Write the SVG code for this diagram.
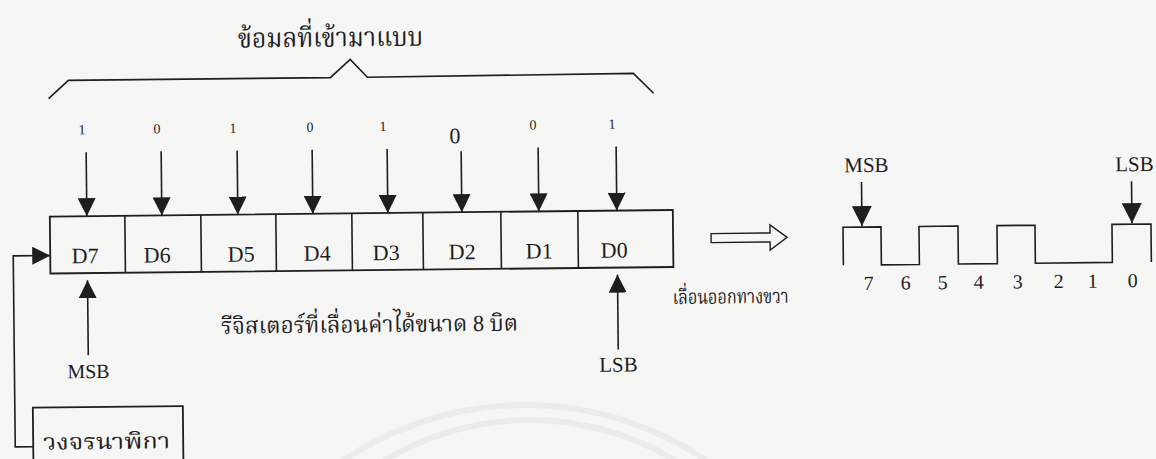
<svg xmlns="http://www.w3.org/2000/svg" width="1156" height="459" viewBox="0 0 1156 459">
  <style>
    .ln { fill: none; stroke: #1e1e1e; stroke-width: 1.6; }
    .box { fill: none; stroke: #1e1e1e; stroke-width: 1.8; }
    .t { font-family: "Liberation Serif", "Noto Serif Thai", "Noto Sans Thai", "Loma", "Garuda", serif; fill: #1e1e1e; }
    .th { font-family: "Liberation Serif", "Noto Serif Thai", "Noto Sans Thai", "Loma", "Garuda", "Tlwg Typo", serif; fill: #1e1e1e; }
    .cell { font-size: 22px; text-anchor: middle; }
    .bit { font-size: 14px; text-anchor: middle; }
    .lbl { font-size: 21px; text-anchor: middle; }
    .wd { font-size: 20px; text-anchor: middle; }
  </style>
  <defs>
    <marker id="ah" markerUnits="userSpaceOnUse" markerWidth="18" markerHeight="18" refX="18" refY="9" orient="auto" viewBox="0 0 18 18">
      <path d="M0,0 L18,9 L0,18 z" fill="#1e1e1e"/>
    </marker>
    <marker id="ahs" markerUnits="userSpaceOnUse" markerWidth="20" markerHeight="20" refX="20" refY="10" orient="auto" viewBox="0 0 20 20">
      <path d="M0,0 L20,10 L0,20 z" fill="#1e1e1e"/>
    </marker>
  </defs>
  <rect width="1156" height="459" fill="#f6f6f5"/>
  <g id="watermark" fill="none" stroke="#ebebeb" stroke-width="6">
    <path d="M330,470 A325,325 0 0 1 720,470"/>
    <path d="M370,470 A281,281 0 0 1 690,470"/>
  </g>
  <g transform="rotate(-0.6 578 230)">
    <g id="title">
      <text class="th" x="240" y="44" font-size="27" textLength="185" lengthAdjust="spacingAndGlyphs">ข้อมลที่เข้ามาแบบ</text>
      <path class="ln" d="M50,93 L70,75 L332,75 L352,57 L369,75 L635,74 L655,94"/>
    </g>
    <g id="bits" class="t bit">
      <text x="83" y="129">1</text>
      <text x="158" y="129">0</text>
      <text x="234" y="129">1</text>
      <text x="311" y="129">0</text>
      <text x="384" y="129">1</text>
      <text x="456" y="142" style="font-size:22px">0</text>
      <text x="534" y="129">0</text>
      <text x="613" y="129">1</text>
    </g>
    <g id="register">
      <rect class="box" x="50" y="211" width="623" height="57"/>
      <path class="ln" d="M125,211 V268 M201,211 V268 M276,211 V268 M352,211 V268 M423,211 V268 M501,211 V268 M578,211 V268"/>
      <g class="t cell">
        <text x="85" y="258">D7</text>
        <text x="157" y="258">D6</text>
        <text x="241" y="258">D5</text>
        <text x="317" y="258">D4</text>
        <text x="386" y="258">D3</text>
        <text x="462" y="258">D2</text>
        <text x="539" y="258">D1</text>
        <text x="614" y="258">D0</text>
      </g>
      <text class="th" x="220" y="330" font-size="23" textLength="297" lengthAdjust="spacingAndGlyphs">รีจิสเตอร์ที่เลื่อนค่าได้ขนาด 8 บิต</text>
    </g>
    <g id="msb-left">
      <text class="t lbl" x="87" y="373" style="font-size:20px">MSB</text>
    </g>
    <g id="lsb-left">
      <text class="t lbl" x="617" y="372">LSB</text>
    </g>
    <g id="clock">
      <rect class="box" x="31" y="402" width="150" height="70"/>
      <text class="th" x="41" y="444" font-size="22" textLength="127" lengthAdjust="spacingAndGlyphs">วงจรนาพิกา</text>
    </g>
    <g id="shift-out">
      <polygon class="ln" points="711,235 770,235 770,227 787,239.5 770,252 770,244 711,244" style="stroke-width:1.4"/>
      <text class="th" x="672" y="305" font-size="20" textLength="116" lengthAdjust="spacingAndGlyphs">เลื่อนออกทางขวา</text>
    </g>
    <g id="waveform">
      <path class="ln" d="M843,268 V230 H881 V268 H919 V230 H958 V268 H997 V230 H1035 V268 H1112 V230 H1151 V268"/>
      <text class="t lbl" x="867" y="175">MSB</text>
      <text class="t lbl" x="1135" y="177">LSB</text>
      <g class="t wd">
        <text x="868" y="293">7</text>
        <text x="905" y="293">6</text>
        <text x="942" y="293">5</text>
        <text x="978" y="293">4</text>
        <text x="1017" y="293">3</text>
        <text x="1058" y="293">2</text>
        <text x="1092" y="293">1</text>
        <text x="1132" y="293">0</text>
      </g>
    </g>
    <g id="connectors">
      <line class="ln" x1="87" y1="147" x2="87" y2="211" marker-end="url(#ah)"/>
      <line class="ln" x1="162" y1="147" x2="162" y2="211" marker-end="url(#ah)"/>
      <line class="ln" x1="238" y1="147" x2="238" y2="211" marker-end="url(#ah)"/>
      <line class="ln" x1="313" y1="147" x2="313" y2="211" marker-end="url(#ah)"/>
      <line class="ln" x1="388" y1="147" x2="388" y2="211" marker-end="url(#ah)"/>
      <line class="ln" x1="462" y1="150" x2="462" y2="211" marker-end="url(#ah)"/>
      <line class="ln" x1="539" y1="147" x2="539" y2="211" marker-end="url(#ah)"/>
      <line class="ln" x1="617" y1="147" x2="617" y2="211" marker-end="url(#ah)"/>
      <line class="ln" x1="87" y1="350" x2="87" y2="275" marker-end="url(#ah)"/>
      <line class="ln" x1="617" y1="350" x2="617" y2="275" marker-end="url(#ah)"/>
      <path class="ln" d="M31,441 H13 V250 H50" marker-end="url(#ah)"/>
      <line class="ln" x1="862" y1="185" x2="862" y2="229" marker-end="url(#ahs)"/>
      <line class="ln" x1="1132" y1="187" x2="1132" y2="229" marker-end="url(#ahs)"/>
    </g>
  </g>
</svg>
